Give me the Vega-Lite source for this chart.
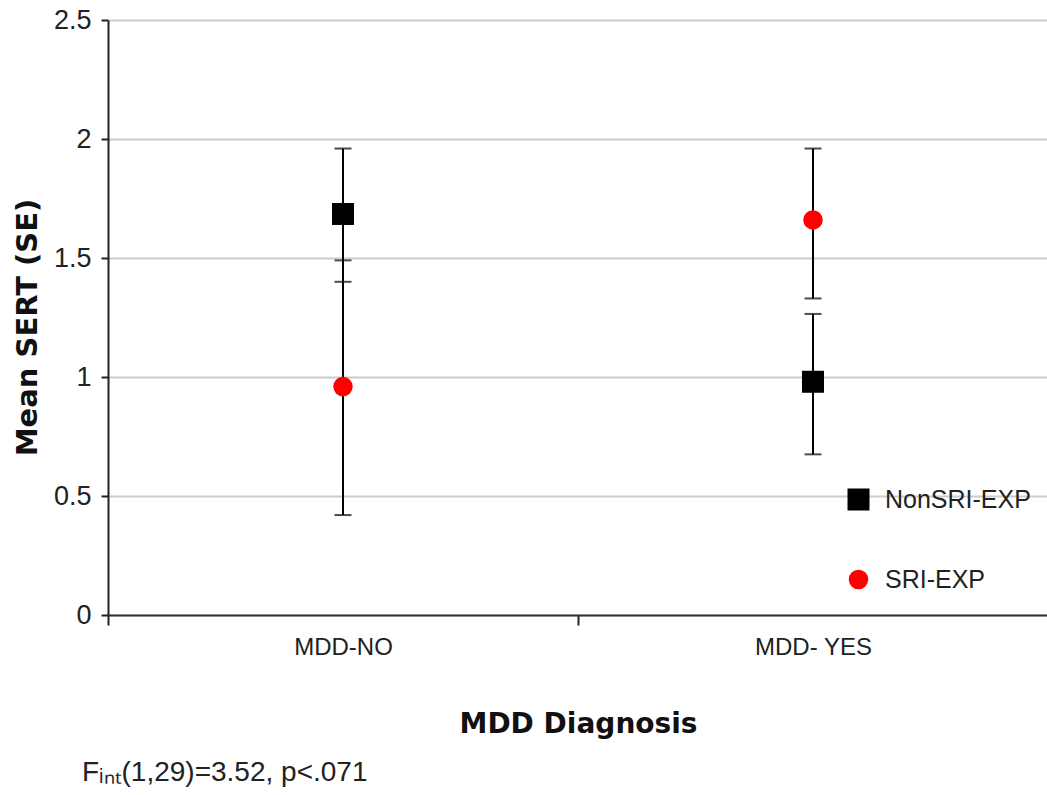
{
  "$schema": "https://vega.github.io/schema/vega-lite/v6.json",
  "width": 940,
  "height": 595,
  "autosize": {"type": "none"},
  "padding": {"left": 108, "top": 20, "right": 0, "bottom": 180},
  "background": "white",
  "config": {
    "view": {"stroke": null},
    "font": "Liberation Sans"
  },
  "title": {
    "text": "Fᵢₙₜ(1,29)=3.52, p<.071",
    "orient": "bottom",
    "anchor": "start",
    "frame": "group",
    "dx": -26,
    "offset": 21,
    "fontSize": 28,
    "fontWeight": "normal",
    "font": "Liberation Sans",
    "color": "#222222"
  },
  "data": {
    "values": [
      {"diag": "MDD-NO", "group": "NonSRI-EXP", "mean": 1.685, "lo": 1.40, "hi": 1.96},
      {"diag": "MDD-NO", "group": "SRI-EXP", "mean": 0.96, "lo": 0.42, "hi": 1.49},
      {"diag": "MDD- YES", "group": "SRI-EXP", "mean": 1.66, "lo": 1.33, "hi": 1.96},
      {"diag": "MDD- YES", "group": "NonSRI-EXP", "mean": 0.98, "lo": 0.675, "hi": 1.265}
    ]
  },
  "encoding": {
    "x": {
      "field": "diag",
      "type": "nominal",
      "sort": ["MDD-NO", "MDD- YES"],
      "scale": {"paddingInner": 0, "paddingOuter": 0},
      "axis": {
        "title": "MDD Diagnosis",
        "titleFont": "DejaVu Sans",
        "titleFontSize": 28,
        "titleFontWeight": "bold",
        "titleColor": "#111111",
        "titlePadding": 51,
        "labelAngle": 0,
        "labelFontSize": 24,
        "labelColor": "#222222",
        "labelPadding": 10,
        "tickBand": "extent",
        "tickSize": 10,
        "tickColor": "#222222",
        "tickWidth": 2,
        "domainColor": "#333333",
        "domainWidth": 2,
        "grid": false
      }
    }
  },
  "layer": [
    {
      "mark": {"type": "rule", "color": "black", "strokeWidth": 2},
      "encoding": {
        "y": {
          "field": "lo",
          "type": "quantitative",
          "scale": {"domain": [0, 2.5], "nice": false},
          "axis": {
            "title": "Mean SERT (SE)",
            "titleFont": "DejaVu Sans",
            "titleFontSize": 29,
            "titleFontWeight": "bold",
            "titleColor": "#111111",
            "titlePadding": 11,
            "titleY": 307,
            "values": [0, 0.5, 1, 1.5, 2, 2.5],
            "labelExpr": "'' + datum.value",
            "labelFontSize": 27,
            "labelColor": "#222222",
            "labelPadding": 10,
            "tickSize": 7,
            "tickColor": "#222222",
            "tickWidth": 2,
            "domainColor": "#222222",
            "domainWidth": 2,
            "grid": true,
            "gridColor": "#cccccc",
            "gridWidth": 2
          }
        },
        "y2": {"field": "hi"}
      }
    },
    {
      "mark": {"type": "tick", "color": "black", "size": 17, "thickness": 2},
      "encoding": {
        "y": {"field": "lo", "type": "quantitative"}
      }
    },
    {
      "mark": {"type": "tick", "color": "black", "size": 17, "thickness": 2},
      "encoding": {
        "y": {"field": "hi", "type": "quantitative"}
      }
    },
    {
      "mark": {"type": "point", "filled": true, "opacity": 1},
      "encoding": {
        "y": {"field": "mean", "type": "quantitative"},
        "color": {
          "field": "group",
          "type": "nominal",
          "scale": {"domain": ["NonSRI-EXP", "SRI-EXP"], "range": ["#000000", "#ff0000"]},
          "legend": {
            "title": null,
            "orient": "none",
            "legendX": 738,
            "legendY": 467,
            "labelFontSize": 25,
            "labelFont": "Liberation Sans",
            "labelColor": "#222222",
            "labelOffset": 14,
            "rowPadding": 54
          }
        },
        "shape": {
          "field": "group",
          "type": "nominal",
          "scale": {"domain": ["NonSRI-EXP", "SRI-EXP"], "range": ["square", "circle"]}
        },
        "size": {
          "field": "group",
          "type": "nominal",
          "scale": {"domain": ["NonSRI-EXP", "SRI-EXP"], "range": [484, 380]}
        }
      }
    }
  ]
}
